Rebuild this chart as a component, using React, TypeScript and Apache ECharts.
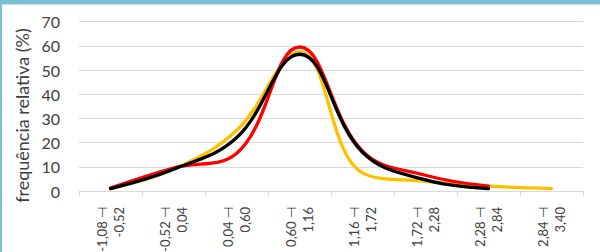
import React, { useEffect, useRef } from "react";
import * as echarts from "echarts";

const categories = [
  "-1,08 ⊣\n-0,52",
  "-0,52 ⊣\n0,04",
  "0,04 ⊣\n0,60",
  "0,60 ⊣\n1,16",
  "1,16 ⊣\n1,72",
  "1,72 ⊣\n2,28",
  "2,28 ⊣\n2,84",
  "2,84 ⊣\n3,40",
];
const yellowValues = [1, 9, 25, 57.5, 7.5, 4, 2, 1];
const redValues = [1.2, 9.5, 15.5, 59.5, 16.5, 6.5, 2];
const blackValues = [1, 9, 22, 56.5, 16, 4.6, 1];
const yTitle = "frequência relativa (%)";

const FONT = "Lato, 'Open Sans', sans-serif";

export default function App() {
  const ref = useRef<HTMLDivElement>(null);
  useEffect(() => {
    if (!ref.current) return;
    const chart = echarts.init(ref.current, null, { renderer: "svg" });
    const mkSeries = (name: string, data: number[], color: string) => ({
      name,
      type: "line",
      data,
      smooth: 0.4,
      showSymbol: false,
      symbol: "none",
      lineStyle: { color, width: 3.3, cap: "round", join: "round" },
      itemStyle: { color },
    });
    chart.setOption({
      animation: false,
      backgroundColor: "#ffffff",
      grid: {
        left: 79,
        right: 17,
        top: 21.6,
        bottom: 61,
        containLabel: false,
        outerBoundsMode: "none",
      },
      xAxis: {
        type: "category",
        data: categories,
        boundaryGap: true,
        axisLine: { lineStyle: { color: "#d9d9d9", width: 1 } },
        axisTick: { show: true, length: 5, lineStyle: { color: "#d9d9d9" } },
        axisLabel: {
          interval: 0,
          rotate: 90,
          margin: 16,
          fontSize: 13,
          lineHeight: 17,
          color: "#404040",
          fontFamily: FONT,
        },
        splitLine: { show: false },
      },
      yAxis: {
        type: "value",
        min: 0,
        max: 70,
        interval: 10,
        axisLine: { show: false },
        axisTick: { show: false },
        axisLabel: { fontSize: 16, color: "#404040", fontFamily: FONT, margin: 19 },
        splitLine: { lineStyle: { color: "#d9d9d9", width: 1 } },
      },
      graphic: [
        { type: "rect", shape: { x: 0, y: 0, width: 600, height: 4 }, style: { fill: "#7cc0d3" }, silent: true },
        { type: "rect", shape: { x: 0, y: 4, width: 600, height: 1 }, style: { fill: "#c9dfe6" }, silent: true },
        { type: "rect", shape: { x: 0, y: 0, width: 2, height: 252 }, style: { fill: "#7cc0d3" }, silent: true },
        {
          type: "text",
          x: 22,
          y: 115.5,
          rotation: Math.PI / 2,
          style: {
            text: yTitle,
            fontSize: 18,
            fontFamily: FONT,
            fill: "#404040",
            align: "center",
            verticalAlign: "middle",
          },
          silent: true,
        },
      ],
      series: [
        mkSeries("amarelo", yellowValues, "#ffc000"),
        mkSeries("vermelho", redValues, "#ff0000"),
        mkSeries("preto", blackValues, "#000000"),
      ],
    });
    return () => chart.dispose();
  }, []);
  return (
    <div
      ref={ref}
      style={{ position: "fixed", left: 0, top: 0, width: 600, height: 252 }}
    />
  );
}
